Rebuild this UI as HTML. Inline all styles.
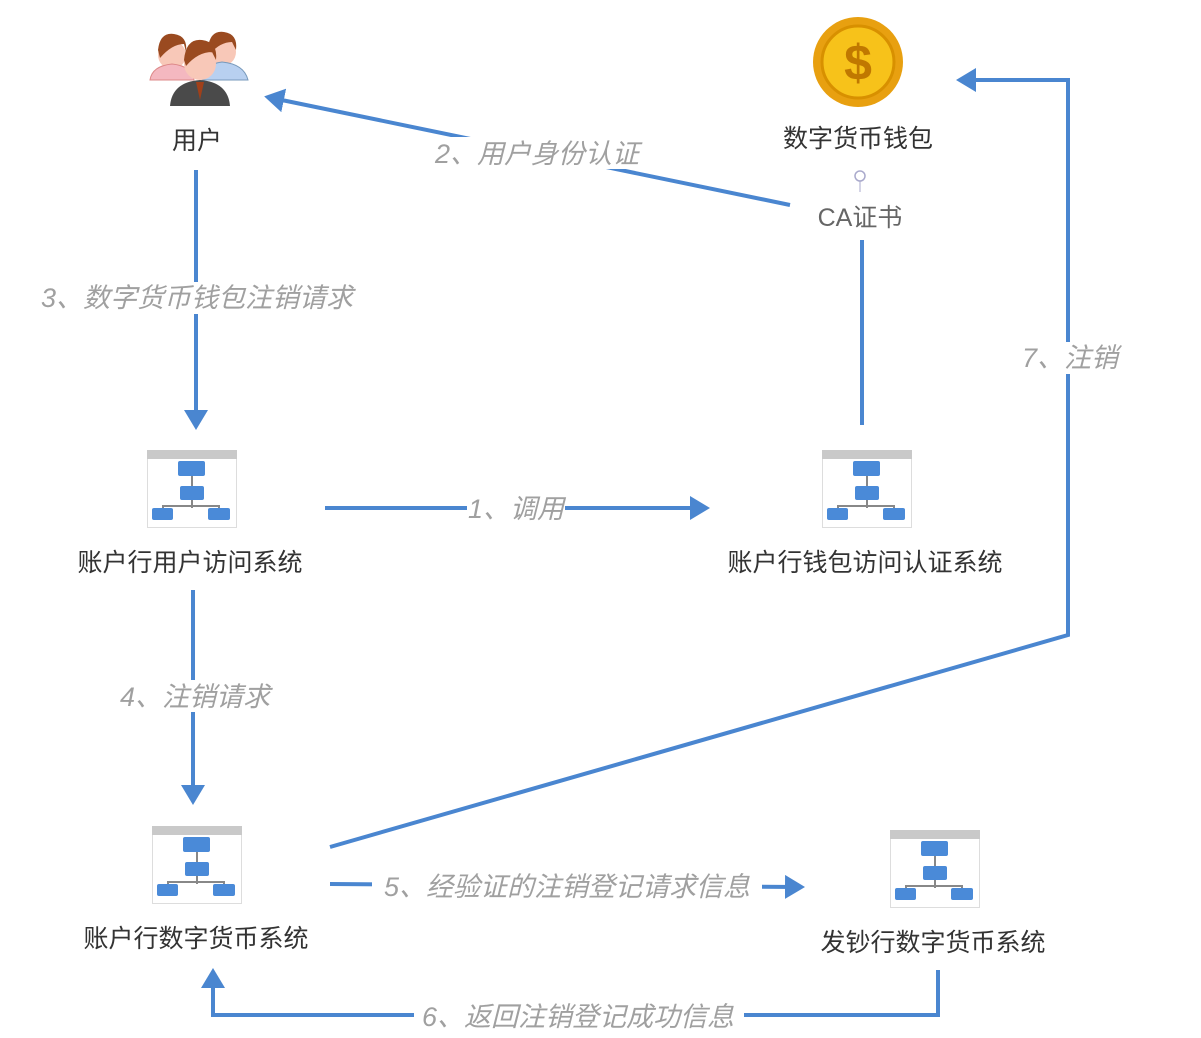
<!DOCTYPE html>
<html><head><meta charset="utf-8"><style>
html,body{margin:0;padding:0;background:#fff}
svg{display:block}
.n{font-family:"Liberation Sans","Noto Sans CJK SC",sans-serif;font-size:25px;fill:#333;text-anchor:middle}
.l{font-family:"Liberation Sans","Noto Sans CJK SC",sans-serif;font-size:27px;fill:#a0a0a0;font-style:italic;text-anchor:middle}
</style></head><body>
<svg width="1201" height="1038" viewBox="0 0 1201 1038" xmlns="http://www.w3.org/2000/svg">
<defs>
<g id="ic">
<rect x="0.5" y="0.5" width="89" height="77" fill="#fff" stroke="#ddd"/>
<rect x="0" y="0" width="90" height="9" fill="#c9c9c9"/>
<path d="M45 26V36M45 50V58M16 64V56H72V64" stroke="#888" stroke-width="2" fill="none"/>
<rect x="31" y="11" width="27" height="15" rx="2" fill="#4a8ad8"/>
<rect x="33" y="36" width="24" height="14" rx="2" fill="#4a8ad8"/>
<rect x="5" y="58" width="21" height="12" rx="2" fill="#4a8ad8"/>
<rect x="61" y="58" width="22" height="12" rx="2" fill="#4a8ad8"/>
</g>
<marker id="a" markerWidth="6" markerHeight="6" refX="3" refY="3" orient="auto" markerUnits="strokeWidth"><path d="M0,0L5,3L0,6Z" fill="#4a86d0"/></marker>
</defs>
<g stroke="#4a86d0" stroke-width="4" fill="none">
<path d="M790 205L272 98" marker-end="url(#a)"/>
<path d="M862 240V425"/>
<path d="M196 170V422" marker-end="url(#a)"/>
<path d="M325 508H702" marker-end="url(#a)"/>
<path d="M193 590V797" marker-end="url(#a)"/>
<path d="M330 847L1068 635V80H964" marker-end="url(#a)"/>
<path d="M330 884L797 887" marker-end="url(#a)"/>
<path d="M938 970V1015H213V976" marker-end="url(#a)"/>
</g>
<g fill="#fff">
<rect x="425" y="137" width="222" height="32"/>
<rect x="30" y="282" width="335" height="32"/>
<rect x="467" y="493" width="98" height="30"/>
<rect x="112" y="680" width="165" height="32"/>
<rect x="1017" y="342" width="104" height="32"/>
<rect x="372" y="870" width="390" height="32"/>
<rect x="414" y="1000" width="330" height="32"/>
</g>
<text class="l" x="537" y="163">2、用户身份认证</text>
<text class="l" x="197" y="307">3、数字货币钱包注销请求</text>
<text class="l" x="516" y="518">1、调用</text>
<text class="l" x="195" y="706">4、注销请求</text>
<text class="l" x="1070" y="367">7、注销</text>
<text class="l" x="567" y="896">5、经验证的注销登记请求信息</text>
<text class="l" x="578" y="1026">6、返回注销登记成功信息</text>
<g>
<circle cx="172" cy="55" r="14" fill="#f8c8b8"/><path d="M158 50Q160 32 174 34Q188 36 186 52L184 44Q172 44 160 58Z" fill="#9a4a20"/>
<path d="M150 80Q152 66 172 64Q192 66 194 80Z" fill="#f4b8c0" stroke="#d88" />
<circle cx="222" cy="52" r="14" fill="#f8c8b8"/><path d="M208 48Q210 30 224 32Q238 34 236 50L232 42Q220 42 210 54Z" fill="#9a4a20"/>
<path d="M202 80Q204 64 222 62Q244 64 248 80Z" fill="#b8d0f0" stroke="#79b"/>
<circle cx="200" cy="64" r="16" fill="#f8c8b8"/><path d="M184 60Q186 38 202 40Q218 42 216 60L212 52Q198 52 186 66Z" fill="#9a4a20"/>
<path d="M170 106Q172 82 200 80Q228 82 230 106Z" fill="#4a4a4a"/>
<path d="M196 82L200 100L204 82Z" fill="#a0401a"/>
</g>
<text class="n" x="197" y="149">用户</text>
<circle cx="858" cy="62" r="45" fill="#e8a010"/>
<circle cx="858" cy="62" r="36" fill="#f7c21a" stroke="#d89000" stroke-width="3"/>
<text x="858" y="80" text-anchor="middle" font-family="Liberation Sans,sans-serif" font-size="50" font-weight="bold" fill="#c07800">$</text>
<text class="n" x="858" y="147">数字货币钱包</text>
<circle cx="860" cy="176" r="5" fill="#fff" stroke="#aac" stroke-width="1.5"/>
<path d="M860 181V192" stroke="#aac"/>
<text class="n" x="860" y="226" style="fill:#666">CA证书</text>
<use href="#ic" x="147" y="450"/>
<use href="#ic" x="822" y="450"/>
<use href="#ic" x="152" y="826"/>
<use href="#ic" x="890" y="830"/>
<text class="n" x="190" y="571">账户行用户访问系统</text>
<text class="n" x="865" y="571">账户行钱包访问认证系统</text>
<text class="n" x="196" y="947">账户行数字货币系统</text>
<text class="n" x="933" y="951">发钞行数字货币系统</text>
</svg>
</body></html>
